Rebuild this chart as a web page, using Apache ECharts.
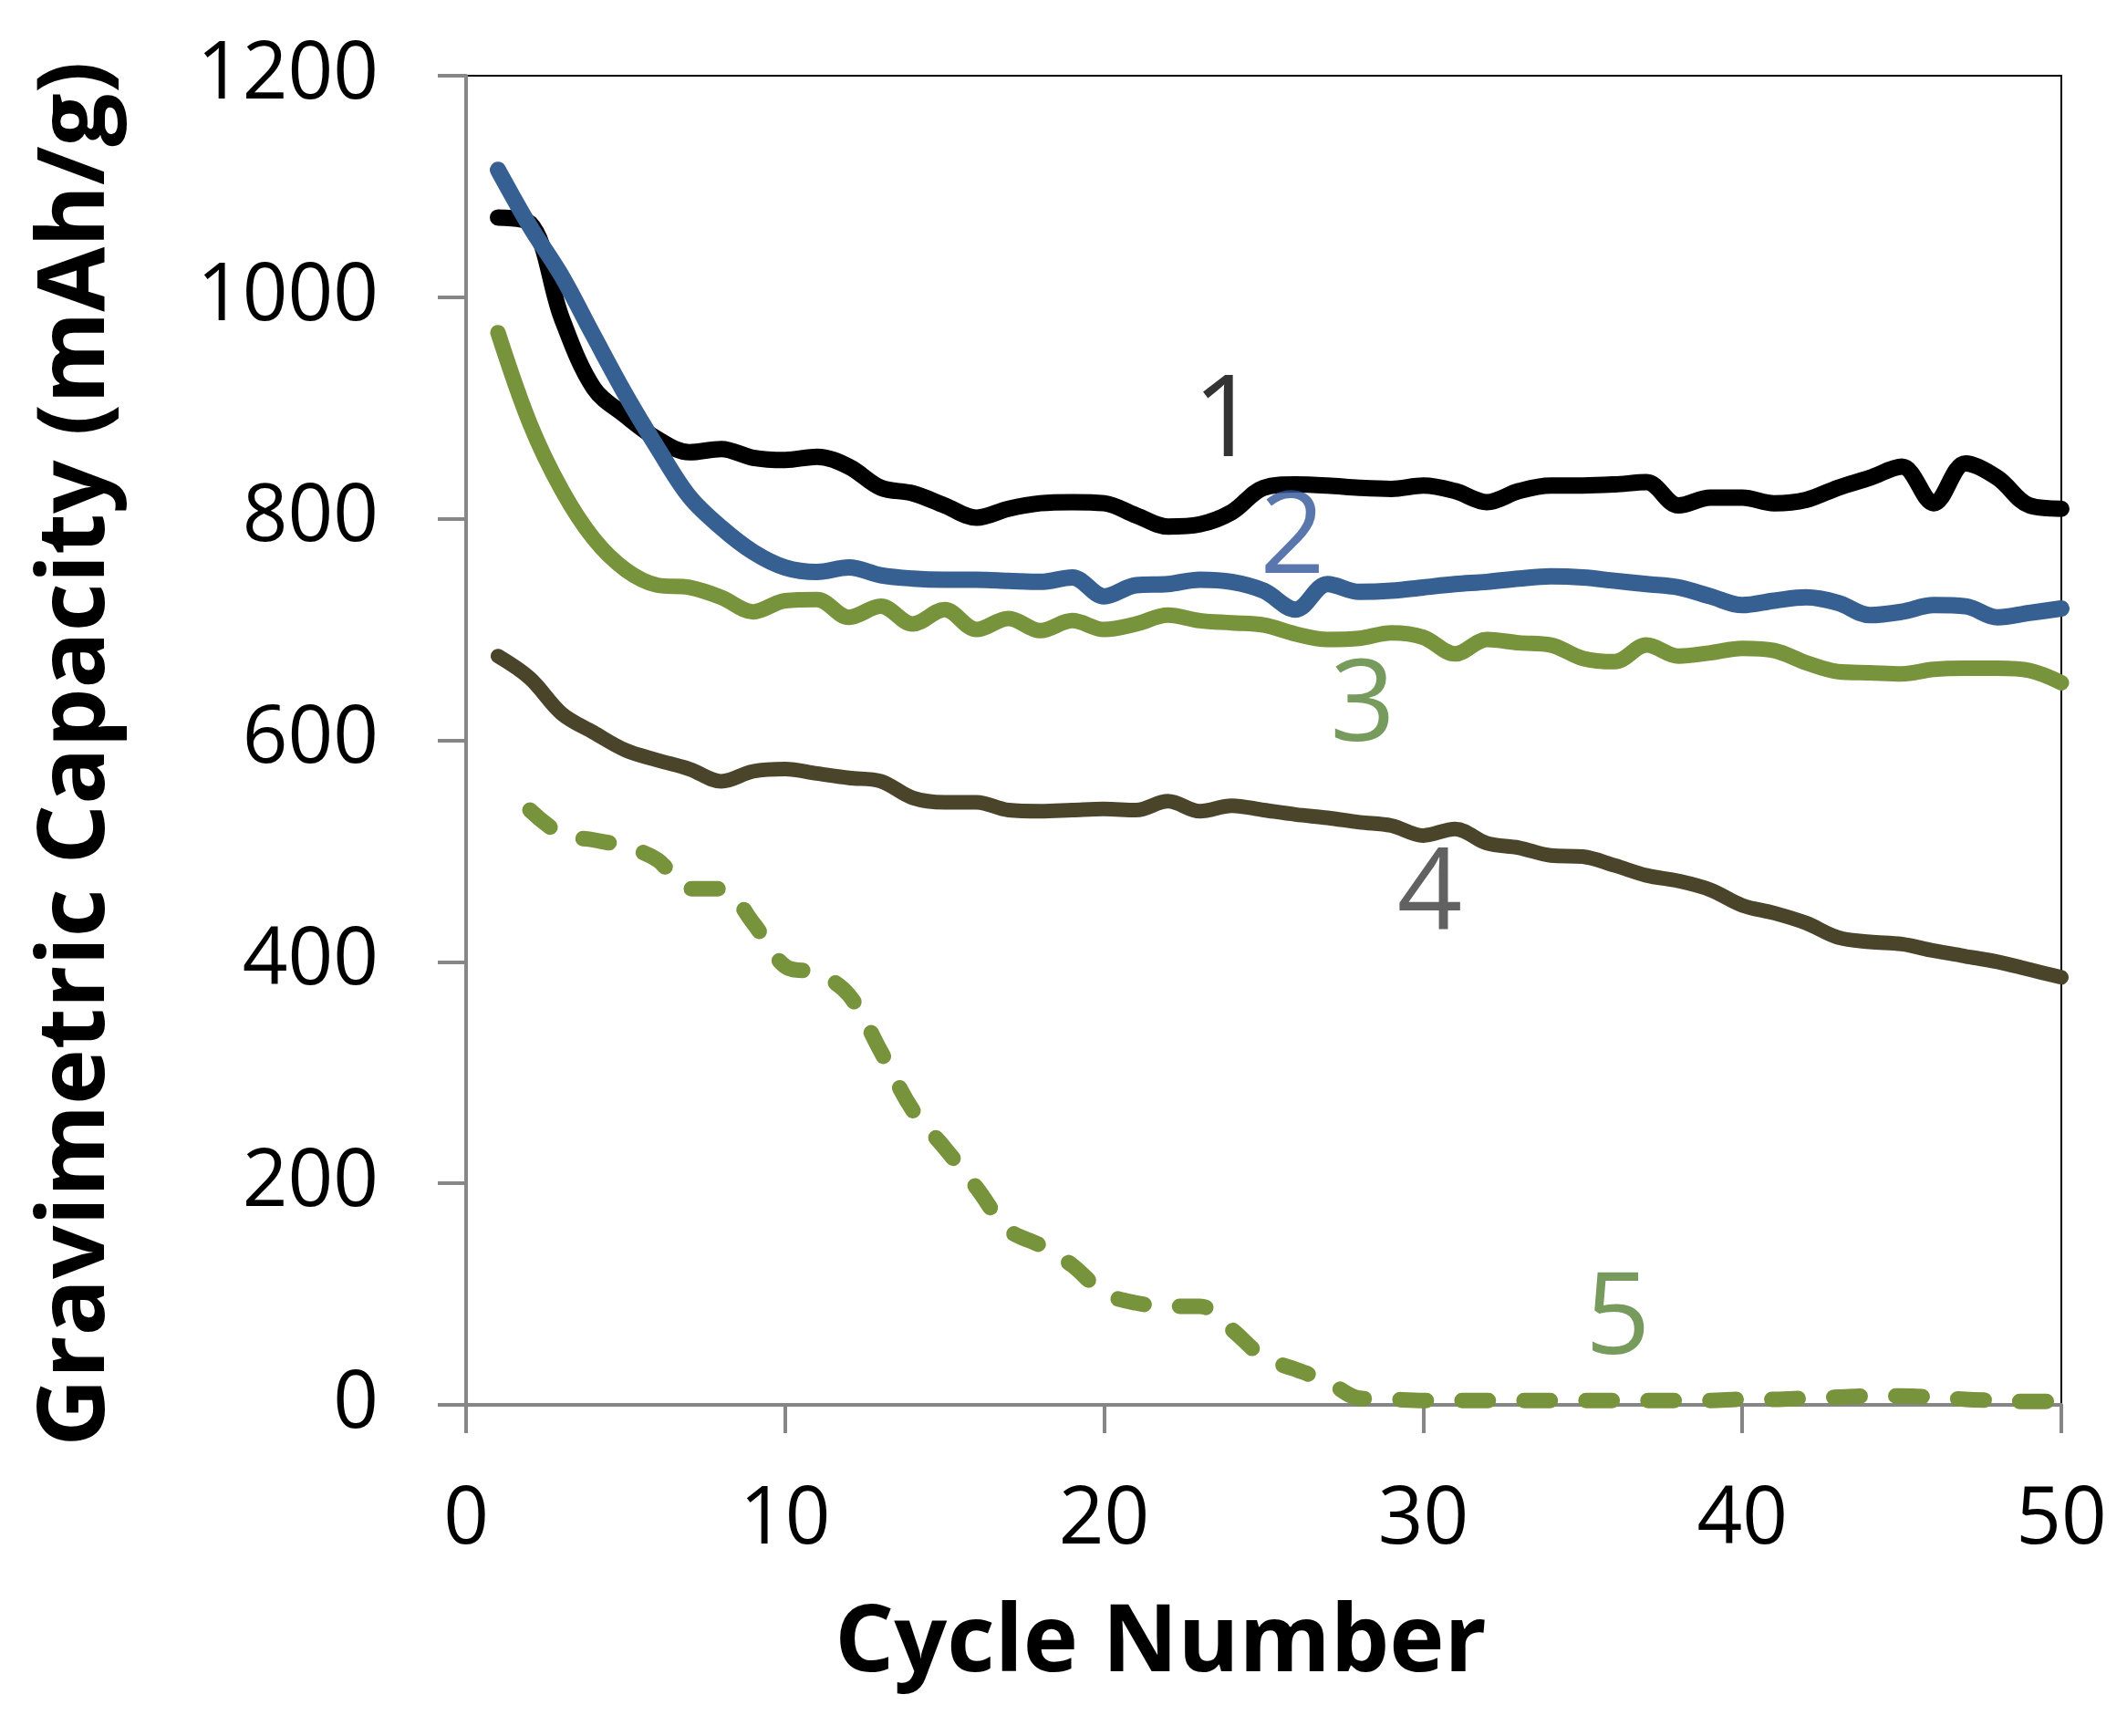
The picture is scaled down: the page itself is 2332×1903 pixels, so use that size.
<!DOCTYPE html>
<html>
<head>
<meta charset="utf-8">
<script src="https://cdn.jsdelivr.net/npm/echarts@6/dist/echarts.min.js"></script>
<style>
html,body{margin:0;padding:0;background:#ffffff;}
#chart{width:2332px;height:1903px;}
</style>
</head>
<body>
<div id="chart"></div>
<script>
// ---- data ----
const cycles = [1,2,3,4,5,6,7,8,9,10,11,12,13,14,15,16,17,18,19,20,21,22,23,24,25,26,27,28,29,30,31,32,33,34,35,36,37,38,39,40,41,42,43,44,45,46,47,48,49,50];

const series1 = [1072,1067,981,918,893,872,860,863,855,853,856,847,828,823,812,801,809,
                 814,815,814,803,793,795,806,828,831,830,828,827,830,825,815,825,830,
                 830,831,833,812,819,819,814,817,828,837,847,814,850,837,812,809];

const series2 = [1115,1064,1019,965,912,864,820,792,770,756,752,756,749,746,745,745,744,
                 743,747,730,740,741,745,743,735,718,741,734,735,738,741,743,746,748,
                 747,744,741,738,730,722,726,729,724,713,716,722,721,711,715,719];

const series3 = [968,886,826,782,754,740,738,729,716,726,727,711,721,705,718,700,710,
                 699,708,700,705,713,708,706,704,696,691,692,697,693,678,691,688,686,
                 674,671,686,676,679,683,681,670,662,661,660,664,665,665,663,652];

const series4 = [676,656,624,607,591,582,574,563,572,574,570,566,563,548,544,544,537,
                 536,537,538,537,545,536,541,537,533,530,526,523,514,520,507,503,496,
                 495,487,478,473,465,451,444,435,422,418,416,410,405,400,393,386];

const series5 = [null,537,515,510,504,492,466,466,435,396,390,370,319,266,232,196,158,
                 144,126,101,92,89,89,68,43,32,21,6,5,4,4,4,4,4,
                 4,4,4,4,4,5,5,6,7,8,8,7,5,4,3,3];

const xTickValues = [0,10,20,30,40,50];
const yTickValues = [0,200,400,600,800,1000,1200];

const curveLabelText = ['1','2','3','4','5'];
const curveLabelX = [23.8, 25.9, 28.1, 30.2, 36.1];
const curveLabelY = [883, 777, 626, 455, 72];

// ---- styles ----
const lineColors = ['#000000', '#376092', '#77933C', '#4A442A', '#77933C'];
const labelColors = ['#000000', '#2F5597', '#548235', '#3A3A3A', '#548235'];
const axisGrey = '#868686';

function pairs(vals){
  const out = [];
  for (let i = 0; i < cycles.length; i++) {
    if (vals[i] !== null && vals[i] !== undefined) out.push([cycles[i], vals[i]]);
  }
  return out;
}

const allSeries = [series1, series2, series3, series4, series5];
const widths = [18, 18, 17, 16, 17];

const seriesList = allSeries.map((vals, i) => ({
  type: 'line',
  data: pairs(vals),
  showSymbol: false,
  symbol: 'none',
  smooth: 0.35,
  silent: true,
  lineStyle: {
    color: lineColors[i],
    width: widths[i],
    type: i === 4 ? [29, 39] : 'solid',
    cap: 'round',
    join: 'round'
  },
  z: 2 + i
}));

curveLabelText.forEach((t, i) => {
  seriesList.push({
    type: 'scatter',
    data: [[curveLabelX[i], curveLabelY[i]]],
    symbol: 'circle',
    symbolSize: 1,
    silent: true,
    itemStyle: { color: 'rgba(0,0,0,0)' },
    label: {
      show: true,
      position: 'inside',
      formatter: t,
      fontFamily: 'Open Sans',
      fontSize: 125,
      color: labelColors[i],
      offset: [0, -4]
    },
    z: 20
  });
});

const chart = echarts.init(document.getElementById('chart'), null, { renderer: 'canvas' });

chart.setOption({
  animation: false,
  backgroundColor: '#ffffff',
  grid: {
    left: 511, right: 72, top: 83, bottom: 363,
    show: true,
    borderColor: '#000000',
    borderWidth: 2,
    backgroundColor: 'transparent'
  },
  xAxis: {
    type: 'value',
    min: xTickValues[0],
    max: xTickValues[xTickValues.length - 1],
    interval: xTickValues[1] - xTickValues[0],
    axisLine: { show: true, onZero: false, lineStyle: { color: axisGrey, width: 4 } },
    axisTick: { show: true, length: 31, lineStyle: { color: axisGrey, width: 4 } },
    splitLine: { show: false },
    axisLabel: { fontFamily: 'Open Sans', fontSize: 87, color: '#000000', margin: 84,
                 formatter: v => String(v) },
    name: 'Cycle Number',
    nameLocation: 'middle',
    nameGap: 212,
    nameTextStyle: {
      fontFamily: 'Open Sans', fontWeight: 'bold', fontSize: 102, color: '#000000',
      padding: [0, 226, 0, 0]
    }
  },
  yAxis: {
    type: 'value',
    min: yTickValues[0],
    max: yTickValues[yTickValues.length - 1],
    interval: yTickValues[1] - yTickValues[0],
    axisLine: { show: true, onZero: false, lineStyle: { color: axisGrey, width: 4 } },
    axisTick: { show: true, length: 31, lineStyle: { color: axisGrey, width: 4 } },
    splitLine: { show: false },
    axisLabel: { fontFamily: 'Open Sans', fontSize: 87, color: '#000000', margin: 96,
                 formatter: v => String(v) },
    name: 'Gravimetric Capacity (mAh/g)',
    nameLocation: 'middle',
    nameGap: 375,
    nameTextStyle: {
      fontFamily: 'Open Sans', fontWeight: 'bold', fontSize: 103, color: '#000000',
      padding: [0, 30, 0, 0]
    }
  },
  series: seriesList
});
</script>
</body>
</html>
